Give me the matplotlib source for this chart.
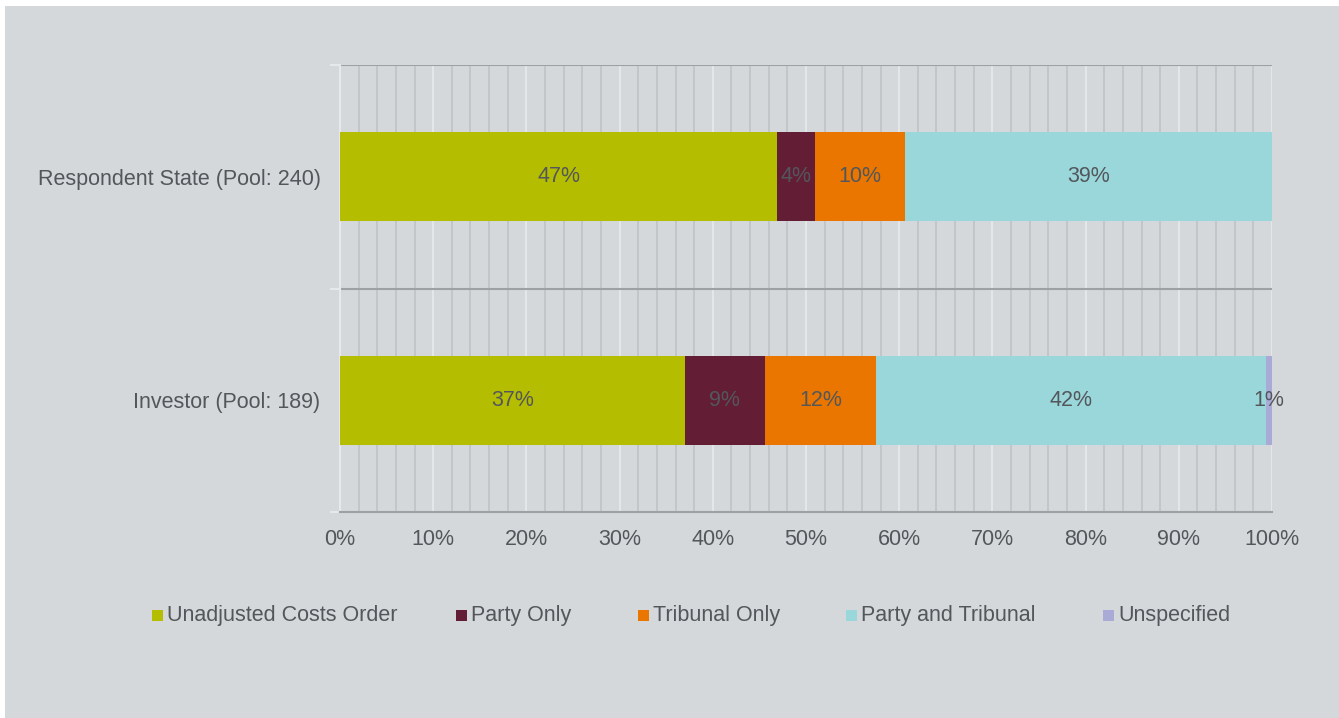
import matplotlib
matplotlib.use('Agg')
import matplotlib.pyplot as plt
import matplotlib.patches as mpatches
from matplotlib.ticker import MultipleLocator, FuncFormatter
import numpy as np

plt.rcParams['font.family'] = ['Liberation Sans', 'DejaVu Sans']

# data
categories = ['Investor (Pool: 189)', 'Respondent State (Pool: 240)']
series = ['Unadjusted Costs Order', 'Party Only', 'Tribunal Only',
          'Party and Tribunal', 'Unspecified']
unadjusted = [37.0, 46.9]
party_only = [8.6, 4.1]
tribunal_only = [11.9, 9.6]
party_and_tribunal = [41.9, 39.4]
unspecified = [0.6, 0.0]

colors = ['#b5bd00', '#631d35', '#ea7600', '#9ad7db', '#aaaad6']
bg = '#d4d8db'
txt = '#53575b'
fs = 15.5

fig = plt.figure(figsize=(13.39, 7.18), dpi=100, facecolor='white')
# grey panel with thin white border on top/left
fig.patches.append(mpatches.Rectangle((5 / 1339, 0), 1, 712 / 718,
                                      transform=fig.transFigure,
                                      facecolor=bg, edgecolor='none', zorder=-5))

ax = fig.add_axes([340 / 1339, 1 - 512 / 718, 932 / 1339, 447 / 718])
ax.set_facecolor(bg)

y = np.arange(len(categories))
left = np.zeros(len(categories))
all_vals = [unadjusted, party_only, tribunal_only, party_and_tribunal, unspecified]
for name, vals, c in zip(series, all_vals, colors):
    vals = np.array(vals)
    bars = ax.barh(y, vals, left=left, height=0.4, color=c, label=name, zorder=3)
    for b, v in zip(bars, vals):
        if v > 0:
            ax.text(b.get_x() + b.get_width() / 2, b.get_y() + b.get_height() / 2,
                    f'{max(1, round(v))}%', ha='center', va='center',
                    fontsize=fs, color=txt, zorder=4)
    left += vals

ax.set_xlim(0, 100)
ax.set_ylim(-0.5, 1.5)

# gridlines
ax.xaxis.set_major_locator(MultipleLocator(10))
ax.xaxis.set_minor_locator(MultipleLocator(2))
ax.grid(axis='x', which='minor', color='#c2c5c8', linewidth=1.3, zorder=1)
ax.grid(axis='x', which='major', color='#e6e8ea', linewidth=1.3, zorder=2)
for yy in [0.5, 1.5]:
    ax.axhline(yy, color='#9ea1a4', linewidth=1.5, zorder=2)

ax.xaxis.set_major_formatter(FuncFormatter(lambda v, p: f'{v:.0f}%'))
ax.tick_params(axis='x', which='both', length=0, labelsize=fs,
               labelcolor=txt, pad=12)

ax.set_yticks(y)
ax.set_yticklabels(categories)
ax.set_yticks([-0.5, 0.5, 1.5], minor=True)
ax.tick_params(axis='y', which='major', length=0, labelsize=fs,
               labelcolor=txt, pad=14)
ax.tick_params(axis='y', which='minor', length=7, width=1.5, color='#e6e8ea')

for s in ['top', 'right']:
    ax.spines[s].set_visible(False)
ax.spines['left'].set_color('#e6e8ea')
ax.spines['left'].set_linewidth(1.5)
ax.spines['bottom'].set_color('#9ea1a4')
ax.spines['bottom'].set_linewidth(1.5)

# legend, laid out like the original
leg_x = [152, 456, 638, 846, 1103]
leg_y = 1 - 615 / 718
for name, c, lx in zip(series, colors, leg_x):
    fig.patches.append(mpatches.Rectangle((lx / 1339, leg_y - 5.5 / 718), 11 / 1339, 11 / 718,
                                          transform=fig.transFigure,
                                          facecolor=c, edgecolor='none', zorder=3))
    fig.text((lx + 15) / 1339, leg_y, name, ha='left', va='center',
             fontsize=fs, color=txt)

fig.savefig('out.png', dpi=100, facecolor='white')
